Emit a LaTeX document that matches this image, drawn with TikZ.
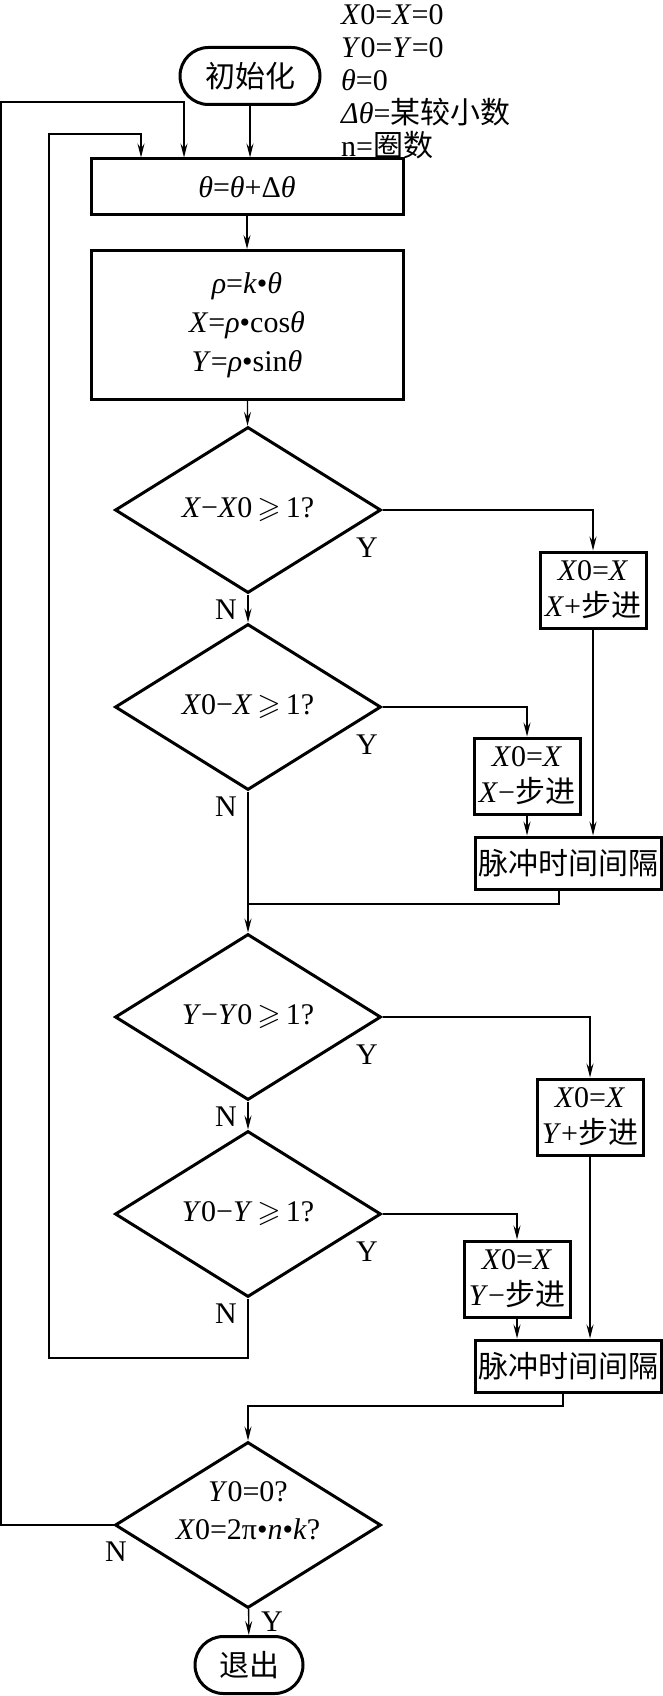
\documentclass[tikz,border=0pt]{standalone}
\usepackage{amssymb}
\usepackage{fontspec}
\setmainfont{Liberation Serif}
\newfontfamily\cjk{Noto Sans CJK SC}
\usetikzlibrary{positioning,arrows.meta,shapes.geometric,shapes.misc}

\begin{document}
\begin{tikzpicture}[x=1pt, y=-1pt,
  font=\fontsize{30}{36}\selectfont,
  box/.style={draw, line width=3pt, align=center, inner sep=2pt},
  act/.style={box, minimum width=106pt, minimum height=76pt},
  pulse/.style={box, minimum width=186pt, minimum height=52pt},
  term/.style={box, rounded rectangle, minimum height=57pt},
  test/.style={diamond, draw, line width=3pt, minimum width=266pt,
               minimum height=166pt, inner sep=0pt},
  wire/.style={line width=1.3pt},
  arr/.style={wire, -{Stealth[length=14pt, width=7pt, inset=5pt]}},
  yn/.style={inner sep=0pt}]

\useasboundingbox (0,0) rectangle (662,1696);

\node[term, minimum width=144pt] (init) at (250,76) {{\cjk 初始化}};
\node[align=left, anchor=north west, inner sep=0pt,
      font=\fontsize{30}{33}\selectfont] (notes) at (341,4)
  {\textit{X}0=\textit{X}=0\\ \textit{Y}0=\textit{Y}=0\\ \textit{θ}=0\\
   \textit{Δθ}={\cjk 某较小数}\\ n={\cjk 圈数}};

\node[box, minimum width=312pt, minimum height=56pt] (th) at (247,187)
  {\textit{θ}=\textit{θ}+Δ\textit{θ}};
\node[box, minimum width=312pt, minimum height=149pt,
      font=\fontsize{30}{39}\selectfont] (calc) at (247,325)
  {\textit{ρ}=\textit{k}•\textit{θ}\\ \textit{X}=\textit{ρ}•cos\textit{θ}\\
   \textit{Y}=\textit{ρ}•sin\textit{θ}};

\node[test] (d1) at (248,510)  {\textit{X}−\textit{X}0\,$\geqslant$\,1?};
\node[test] (d2) at (248,707)  {\textit{X}0−\textit{X}\,$\geqslant$\,1?};
\node[test] (d3) at (248,1017) {\textit{Y}−\textit{Y}0\,$\geqslant$\,1?};
\node[test] (d4) at (248,1214) {\textit{Y}0−\textit{Y}\,$\geqslant$\,1?};
\node[test] (d5) at (248,1525) {};
\node[align=center, inner sep=0pt, font=\fontsize{30}{38}\selectfont]
  (d5txt) at ([yshift=14pt]d5.center)
  {\textit{Y}0=0?\\ \textit{X}0=2π•\textit{n}•\textit{k}?};

\node[act] (bX1) at (593,590)  {\textit{X}0=\textit{X}\\ \textit{X}+{\cjk 步进}};
\node[act] (bX2) at (527,776)  {\textit{X}0=\textit{X}\\ \textit{X}−{\cjk 步进}};
\node[pulse] (p1) at (568,863) {{\cjk 脉冲时间间隔}};
\node[act] (bY1) at (590,1117) {\textit{X}0=\textit{X}\\ \textit{Y}+{\cjk 步进}};
\node[act] (bY2) at (517,1279) {\textit{X}0=\textit{X}\\ \textit{Y}−{\cjk 步进}};
\node[pulse] (p2) at (568,1366) {{\cjk 脉冲时间间隔}};

\node[term, minimum width=112pt] (exit) at (249,1665) {{\cjk 退出}};

\foreach \d in {d1,d2,d3,d4} {
  \node[yn] (\d-y) at ([shift={(119,38)}]\d.center) {Y};
  \node[yn] (\d-n) at ([shift={(-22,100)}]\d.center) {N};
}
\node[yn] (d5-n) at ([shift={(-132,27)}]d5.center) {N};
\node[yn] (d5-y) at ([shift={(24,97)}]d5.center) {Y};

\coordinate (m1) at (248,904);
\coordinate (m2) at (248,1406);
\coordinate (innerL) at (49,1358);
\coordinate (innerT) at (49,134);
\coordinate (outerL) at (1,1525);
\coordinate (outerT) at (1,102);

\draw[arr] (init.south) -- (init.south |- th.north);
\draw[arr] (th) -- (calc);
\draw[arr] (calc) -- (d1);
\draw[arr] (d1.east) -| (bX1.north);
\draw[arr] (d1.south) -- (d2.north);
\draw[arr] (d2.east) -| (bX2.north);
\draw[arr] (bX1.south) -- (bX1.south |- p1.north);
\draw[arr] (bX2.south) -- (bX2.south |- p1.north);
\draw[wire] ([xshift=-9pt]p1.south) |- (m1);
\draw[arr] (d2.south) -- (d3.north);
\draw[arr] (d3.east) -| (bY1.north);
\draw[arr] (d3.south) -- (d4.north);
\draw[arr] (d4.east) -| (bY2.north);
\draw[arr] (bY1.south) -- (bY1.south |- p2.north);
\draw[arr] (bY2.south) -- (bY2.south |- p2.north);
\draw[arr] ([xshift=-5pt]p2.south) |- (m2) -- (d5.north);
\draw[arr] (d5) -- (exit);
\draw[arr] (d4.south) |- (innerL) -- (innerT) -| ([xshift=-106pt]th.north);
\draw[arr] (d5.west) -- (outerL) -- (outerT) -| ([xshift=-63pt]th.north);

\end{tikzpicture}
\end{document}
